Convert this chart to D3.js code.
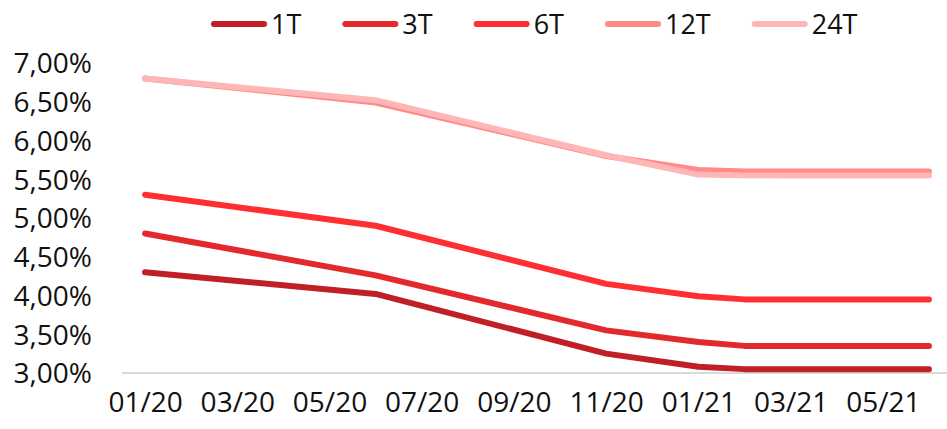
<!DOCTYPE html>
<html>
<head>
<meta charset="utf-8">
<script src="https://cdn.jsdelivr.net/npm/d3@7/dist/d3.min.js"></script>
<style>
  html, body { margin: 0; padding: 0; background: #fff; }
  svg text { font-family: "Open Sans", "Noto Sans", sans-serif; fill: #111; }
</style>
</head>
<body>
<svg id="chart" width="947" height="429"></svg>
<script>
// Month categories on the x axis
const months = ["01/20","02/20","03/20","04/20","05/20","06/20","07/20","08/20","09/20",
                "10/20","11/20","12/20","01/21","02/21","03/21","04/21","05/21","06/21"];
// Months with observed rates
const obsMonths = ["01/20","06/20","11/20","01/21","02/21","03/21","04/21","05/21","06/21"];
// Rates (%) per tenor
const seriesNames = ["1T","3T","6T","12T","24T"];
const rate1T  = [4.30, 4.02, 3.25, 3.08, 3.05, 3.05, 3.05, 3.05, 3.05];
const rate3T  = [4.80, 4.26, 3.55, 3.40, 3.35, 3.35, 3.35, 3.35, 3.35];
const rate6T  = [5.30, 4.90, 4.15, 3.99, 3.95, 3.95, 3.95, 3.95, 3.95];
const rate12T = [6.80, 6.49, 5.80, 5.62, 5.60, 5.60, 5.60, 5.60, 5.60];
const rate24T = [6.80, 6.52, 5.81, 5.56, 5.55, 5.55, 5.55, 5.55, 5.55];
const seriesColors = ["#c01f26","#e22a2d","#ff2f31","#ff8a8a","#ffb6b6"];
// Axis ticks
const yTicks = [3.0, 3.5, 4.0, 4.5, 5.0, 5.5, 6.0, 6.5, 7.0];
const xTickLabels = ["01/20","03/20","05/20","07/20","09/20","11/20","01/21","03/21","05/21"];

const allSeries = [rate1T, rate3T, rate6T, rate12T, rate24T];

const svg = d3.select("#chart");

const x = d3.scalePoint().domain(months).range([122, 952]).padding(0.5);
const y = d3.scaleLinear().domain([3, 7]).range([373, 63]);

// Baseline
svg.append("line")
  .attr("x1", 122).attr("x2", 947)
  .attr("y1", y(3)).attr("y2", y(3))
  .attr("stroke", "#d9d9d9").attr("stroke-width", 2);

// Y axis labels
const fmt = v => v.toFixed(2).replace(".", ",") + "%";
const yAxis = d3.axisLeft(y).tickValues(yTicks).tickFormat(fmt).tickSize(0).tickPadding(0);
const gy = svg.append("g").attr("transform", "translate(92,0)").call(yAxis);
gy.select(".domain").remove();
gy.selectAll("text")
  .attr("font-size", 28)
  .attr("font-family", "'Open Sans', sans-serif")
  .attr("fill", "#111")
  .attr("dy", "0.35em");

// X axis labels
const xAxis = d3.axisBottom(x).tickValues(xTickLabels).tickSize(0).tickPadding(0);
const gx = svg.append("g").attr("transform", "translate(0,392)").call(xAxis);
gx.select(".domain").remove();
gx.selectAll("text")
  .attr("font-size", 28)
  .attr("font-family", "'Open Sans', sans-serif")
  .attr("fill", "#111")
  .attr("dy", "0.72em");

// Lines
const line = d3.line()
  .x((d, i) => x(obsMonths[i]))
  .y(d => y(d));

allSeries.forEach((vals, k) => {
  svg.append("path")
    .datum(vals)
    .attr("d", line)
    .attr("fill", "none")
    .attr("stroke", seriesColors[k])
    .attr("stroke-width", 6)
    .attr("stroke-linecap", "round")
    .attr("stroke-linejoin", "round");
});

// Legend
const legend = svg.append("g");
let lx = 214;
seriesNames.forEach((name, k) => {
  legend.append("line")
    .attr("x1", lx).attr("x2", lx + 50)
    .attr("y1", 24).attr("y2", 24)
    .attr("stroke", seriesColors[k])
    .attr("stroke-width", 6)
    .attr("stroke-linecap", "round");
  const t = legend.append("text")
    .attr("x", lx + 57).attr("y", 34)
    .attr("font-size", 27)
    .text(name);
  lx += 57 + t.node().getComputedTextLength() + 44;
});
</script>
</body>
</html>
